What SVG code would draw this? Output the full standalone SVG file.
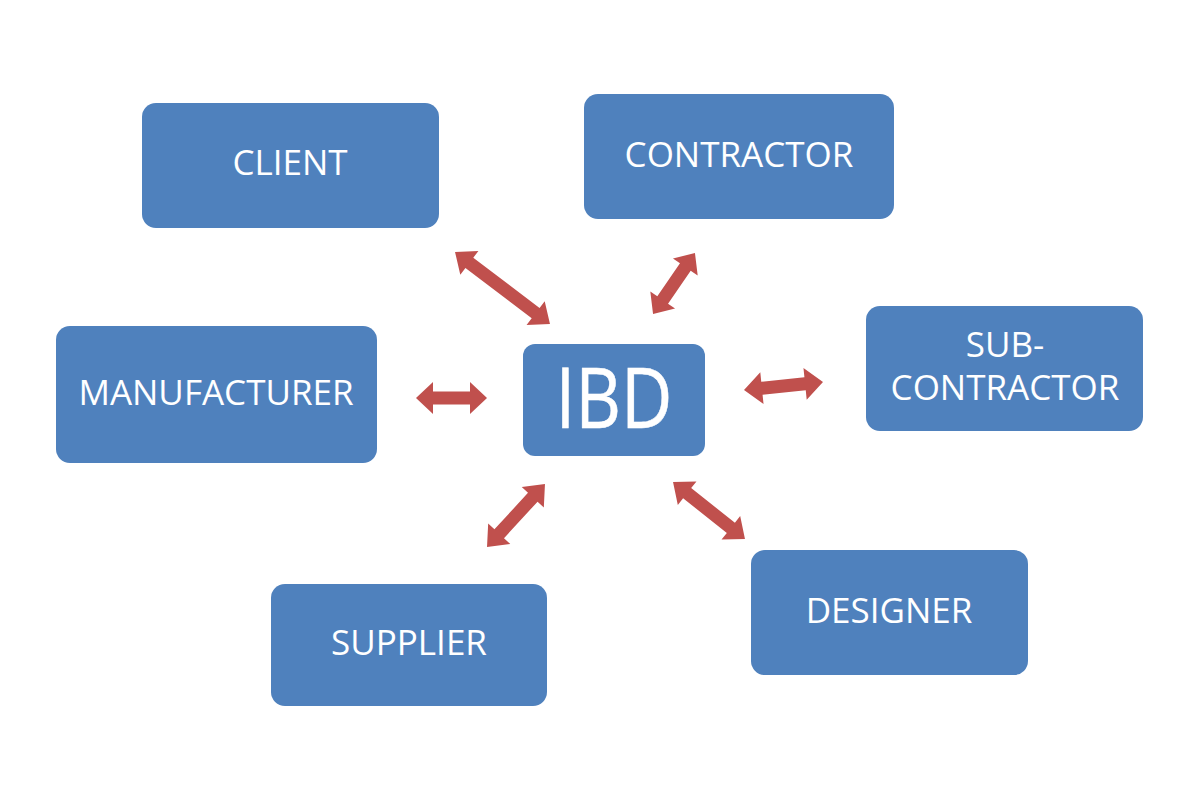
<svg xmlns="http://www.w3.org/2000/svg" width="1204" height="796" viewBox="0 0 1204 796">
<style>
.box{fill:#4F81BD;}
.lbl{fill:#FFFFFF;font-family:"Open Sans","Liberation Sans",sans-serif;font-size:35px;text-anchor:middle;}
.big{font-size:84px;stroke:#FFFFFF;stroke-width:0.6px;}
.arr{fill:#C0504D;}
</style>
<rect width="1204" height="796" fill="#FFFFFF"/>
<g id="connectors">
<polygon class="arr" transform="translate(502.5,288) rotate(37.2)" points="-59.6,0 -41.6,-15 -41.6,-6.5 41.6,-6.5 41.6,-15 59.6,0 41.6,15 41.6,6.5 -41.6,6.5 -41.6,15"/>
<polygon class="arr" transform="translate(674,283.5) rotate(-55.5)" points="-37,0 -20,-15 -20,-6.5 20,-6.5 20,-15 37,0 20,15 20,6.5 -20,6.5 -20,15"/>
<polygon class="arr" transform="translate(451.5,398) rotate(0)" points="-35.5,0 -18.5,-16 -18.5,-6.5 18.5,-6.5 18.5,-16 35.5,0 18.5,16 18.5,6.5 -18.5,6.5 -18.5,16"/>
<polygon class="arr" transform="translate(783.5,386) rotate(-5.8)" points="-39.7,0 -21.7,-16 -21.7,-6.5 21.7,-6.5 21.7,-16 39.7,0 21.7,16 21.7,6.5 -21.7,6.5 -21.7,16"/>
<polygon class="arr" transform="translate(516,515.5) rotate(-47.4)" points="-42.8,0 -24.8,-15 -24.8,-6.5 24.8,-6.5 24.8,-15 42.8,0 24.8,15 24.8,6.5 -24.8,6.5 -24.8,15"/>
<polygon class="arr" transform="translate(709,510.5) rotate(38.4)" points="-45.9,0 -27.9,-15 -27.9,-6.5 27.9,-6.5 27.9,-15 45.9,0 27.9,15 27.9,6.5 -27.9,6.5 -27.9,15"/>
</g>
<g id="client"><rect class="box" x="142" y="103" width="297" height="125" rx="14"/><text class="lbl" x="290" y="175">CLIENT</text></g>
<g id="contractor"><rect class="box" x="584" y="94" width="310" height="125" rx="14"/><text class="lbl" x="739" y="167">CONTRACTOR</text></g>
<g id="manufacturer"><rect class="box" x="56" y="326" width="321" height="137" rx="14"/><text class="lbl" x="216" y="405">MANUFACTURER</text></g>
<g id="ibd"><rect class="box" x="523" y="344" width="182" height="112" rx="12"/><text class="lbl big" x="614" y="428" textLength="117" lengthAdjust="spacingAndGlyphs">IBD</text></g>
<g id="subcontractor"><rect class="box" x="866" y="306" width="277" height="125" rx="14"/><text class="lbl" x="1005" y="357">SUB-</text><text class="lbl" x="1005" y="400">CONTRACTOR</text></g>
<g id="supplier"><rect class="box" x="271" y="584" width="276" height="122" rx="14"/><text class="lbl" x="409" y="655">SUPPLIER</text></g>
<g id="designer"><rect class="box" x="751" y="550" width="277" height="125" rx="14"/><text class="lbl" x="889" y="623">DESIGNER</text></g>
</svg>
